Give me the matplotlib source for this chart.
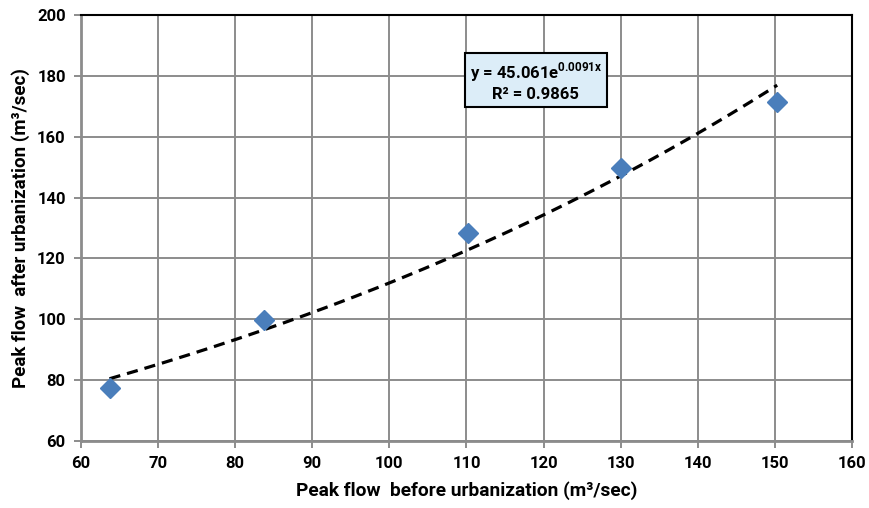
import numpy as np
import matplotlib.pyplot as plt

# datos
caudal_antes = [63.7, 83.7, 110.2, 130.0, 150.3]
caudal_despues = [77.5, 99.7, 128.3, 149.8, 171.5]

# coeficientes de la línea de tendencia exponencial (del recuadro)
COEF_A = 45.061
COEF_B = 0.0091
R2 = 0.9865

plt.rcParams['font.family'] = ['Roboto', 'DejaVu Sans']
plt.rcParams['mathtext.fontset'] = 'custom'
plt.rcParams['mathtext.rm'] = 'Roboto'
plt.rcParams['mathtext.bf'] = 'Roboto:bold'

fig = plt.figure(figsize=(8.69, 5.08), dpi=100)
ax = fig.add_axes([0.0932, 0.1319, 0.8872, 0.8386])

x_tend = np.linspace(min(caudal_antes), max(caudal_antes), 200)
ax.plot(x_tend, COEF_A * np.exp(COEF_B * x_tend), color="black",
        linestyle=(0, (3.5, 2.2)), linewidth=2.3, zorder=3)
ax.plot(caudal_antes, caudal_despues, linestyle="none", marker="D",
        markersize=10, color="#4a7ebb", zorder=4)

ax.set_xlim(60, 160)
ax.set_ylim(60, 200)
ax.set_xticks(np.arange(60, 161, 10))
ax.set_yticks(np.arange(60, 201, 20))
ax.grid(True, color="#8c8c8c", linewidth=1.4)
ax.set_axisbelow(True)

for lado in ["top", "right"]:
    ax.spines[lado].set_color("black")
    ax.spines[lado].set_linewidth(1.5)
for lado in ["left", "bottom"]:
    ax.spines[lado].set_color("#8c8c8c")
    ax.spines[lado].set_linewidth(2)

ax.tick_params(direction="out", length=5, width=1.4, color="#8c8c8c",
               labelsize=12, pad=6)
for lbl in ax.get_xticklabels() + ax.get_yticklabels():
    lbl.set_fontweight("bold")

ax.set_xlabel("Peak flow  before urbanization (m\u00b3/sec)", fontsize=13.8,
              fontweight="bold", labelpad=7)
ax.set_ylabel("Peak flow  after urbanization (m\u00b3/sec)", fontsize=13.5,
              fontweight="bold", labelpad=5)

texto = (f"y = {COEF_A:.3f}e$^{{\\mathbf{{{COEF_B}x}}}}$\n"
         f"R\u00b2 = {R2}")
ax.text(119, 178.3, texto, ha="center", va="center", fontsize=12,
        fontweight="bold", linespacing=1.2,
        bbox=dict(boxstyle="square,pad=0.3", facecolor="#dcedf8",
                  edgecolor="black", linewidth=1.5), zorder=5)

fig.savefig("out.png", dpi=100)
